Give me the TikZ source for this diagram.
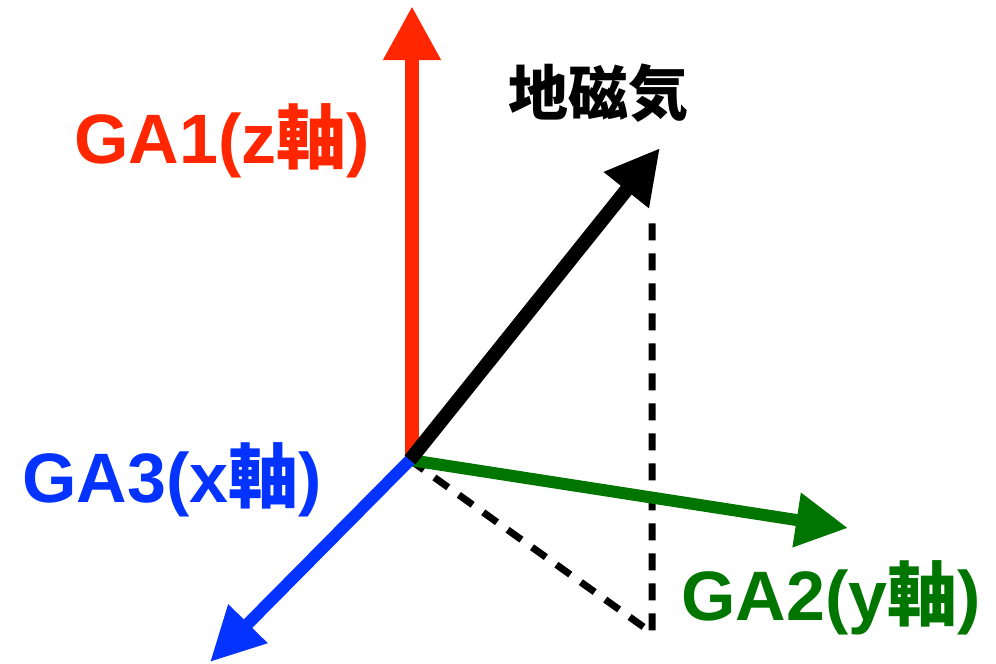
\documentclass[tikz,border=0pt]{standalone}
\usepackage{fontspec}
\newfontfamily\jpfont{Noto Sans CJK JP}
\newfontfamily\latfont{Liberation Sans}
\usetikzlibrary{arrows.meta}
\definecolor{axred}{RGB}{255,38,0}
\definecolor{axblue}{RGB}{4,51,255}
\definecolor{axgreen}{RGB}{0,118,0}
\tikzset{
  axis/.style={line width=#1, -{Triangle[length=54pt,width=54pt]}},
  proj/.style={line width=7pt, dash pattern=on 17pt off 13pt},
  lbl/.style={inner sep=0pt, font=\fontsize{70}{84}\selectfont\bfseries}
}
\newcommand{\ax}[1]{{\latfont\bfseries #1}}
\newcommand{\kj}[1]{{\jpfont\bfseries #1}}
\begin{document}
\begin{tikzpicture}[x=1pt,y=-1pt]
\useasboundingbox (0,0) rectangle (996,664);
\coordinate (O) at (410,460);
\coordinate (Ored) at (412,460);
\coordinate (Z) at (412,6);
\coordinate (Y) at (848,528);
\coordinate (X) at (210,662);
\coordinate (M) at (660,148);
\coordinate (P) at (652,633);
\coordinate (Ptop) at (652,215);
% projection
\draw[proj] (O) -- (P) -- (Ptop);
% axes
\draw[axis=14pt, axred] (Ored) -- (Z);
\draw[axis=12pt, axgreen, -{Triangle[length=52pt,width=52pt]}] (O) -- (Y);
\draw[axis=12pt, axblue, -{Triangle[length=54pt,width=52pt]}] (O) -- (X);
\draw[axis=14pt, black, line cap=butt] (O) -- (M);
% labels
\node[lbl, text=axred] (lz) at (222,141) {\ax{GA1(z}\kj{軸}\ax{)}};
\node[lbl, text=axblue] (lx) at (172,480) {\ax{GA3(x}\kj{軸}\ax{)}};
\node[lbl, text=axgreen] (ly) at (831,598) {\ax{GA2(y}\kj{軸}\ax{)}};
\node[inner sep=0pt, font=\fontsize{60}{72}\selectfont] (lm) at (598,93) {\kj{地磁気}};
\end{tikzpicture}
\end{document}
